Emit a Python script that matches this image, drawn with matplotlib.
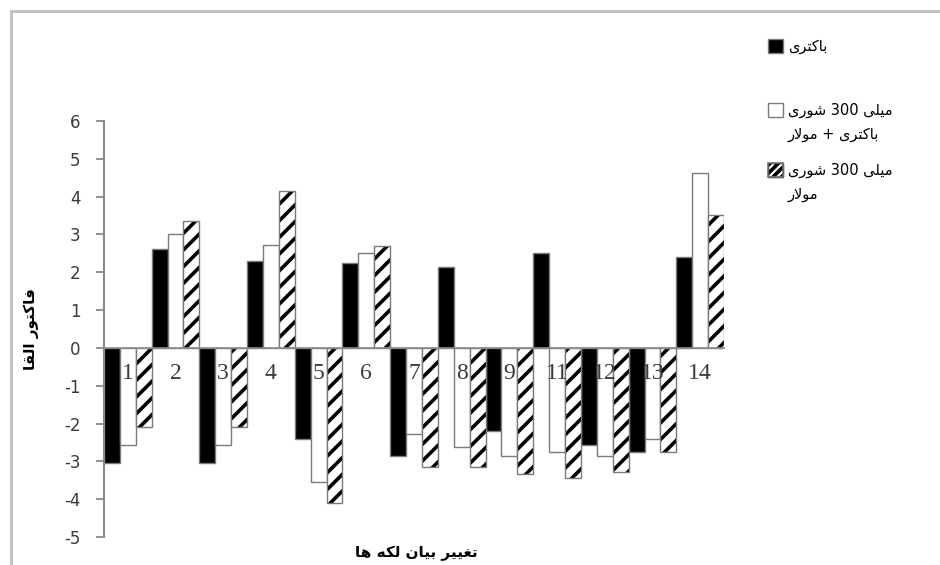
#!/usr/bin/env python3
"""Induction factor of spot expression under bacteria / salinity treatments."""

import numpy as np
import matplotlib
matplotlib.use('Agg')
import matplotlib.pyplot as plt
from matplotlib.patches import Rectangle

categories = ['1', '2', '3', '4', '5', '6', '7', '8', '9', '11', '12', '13', '14']
bacteria = [-3.05, 2.62, -3.05, 2.3, -2.42, 2.25, -2.85, 2.15, -2.2, 2.5, -2.57, -2.75, 2.4]
salt_bacteria = [-2.57, 3.02, -2.57, 2.72, -3.55, 2.5, -2.28, -2.63, -2.87, -2.75, -2.87, -2.42, 4.63]
salt = [-2.1, 3.35, -2.1, 4.15, -4.1, 2.7, -3.15, -3.15, -3.33, -3.43, -3.27, -2.75, 3.52]
y_ticks = [-5, -4, -3, -2, -1, 0, 1, 2, 3, 4, 5, 6]

# legend lines, words listed in the visual left-to-right order of the picture
legend_bacteria = [['باکتری']]
legend_salt_bacteria = [['شوری', '300', 'میلی'], ['مولار', '+', 'باکتری']]
legend_salt = [['شوری', '300', 'میلی'], ['مولار']]
x_title = 'تغییر بیان لکه ها'
y_title = 'فاکتور القا'

# isolated, final, initial, medial presentation forms
FORMS = {
    '\u0627': ('\uFE8D', '\uFE8E', None, None),
    '\u0628': ('\uFE8F', '\uFE90', '\uFE91', '\uFE92'),
    '\u062A': ('\uFE95', '\uFE96', '\uFE97', '\uFE98'),
    '\u0631': ('\uFEAD', '\uFEAE', None, None),
    '\u0634': ('\uFEB5', '\uFEB6', '\uFEB7', '\uFEB8'),
    '\u063A': ('\uFECD', '\uFECE', '\uFECF', '\uFED0'),
    '\u0641': ('\uFED1', '\uFED2', '\uFED3', '\uFED4'),
    '\u0642': ('\uFED5', '\uFED6', '\uFED7', '\uFED8'),
    '\u0644': ('\uFEDD', '\uFEDE', '\uFEDF', '\uFEE0'),
    '\u0645': ('\uFEE1', '\uFEE2', '\uFEE3', '\uFEE4'),
    '\u0646': ('\uFEE5', '\uFEE6', '\uFEE7', '\uFEE8'),
    '\u0647': ('\uFEE9', '\uFEEA', '\uFEEB', '\uFEEC'),
    '\u0648': ('\uFEED', '\uFEEE', None, None),
    '\u06A9': ('\uFB8E', '\uFB8F', '\uFB90', '\uFB91'),
    '\u06CC': ('\uFBFC', '\uFBFD', '\uFBFE', '\uFBFF'),
}


def shape_word(word):
    """Join letters of one Persian word, return it in visual order."""
    tokens = []
    i = 0
    while i < len(word):
        if word[i] == '\u0644' and i + 1 < len(word) and word[i + 1] == '\u0627':
            tokens.append('LA')
            i += 2
        else:
            tokens.append(word[i])
            i += 1
    out = []
    for j, t in enumerate(tokens):
        prev = tokens[j - 1] if j > 0 else None
        nxt = tokens[j + 1] if j + 1 < len(tokens) else None
        join_prev = prev in FORMS and FORMS[prev][2] is not None
        if t == 'LA':
            out.append('\uFEFC' if join_prev else '\uFEFB')
            continue
        if t not in FORMS:
            out.append(t)
            continue
        iso, fin, ini, med = FORMS[t]
        join_next = ini is not None and (nxt == 'LA' or nxt in FORMS)
        if join_prev and join_next:
            out.append(med)
        elif join_prev:
            out.append(fin)
        elif join_next:
            out.append(ini)
        else:
            out.append(iso)
    return ''.join(reversed(out))


def rtl(text):
    return ' '.join(shape_word(w) for w in reversed(text.split(' ')))


def visual_line(words):
    return ' '.join(w if w.isascii() else shape_word(w) for w in words)


def fx(px):
    return px / 940.0


def fy(py):
    return 1 - py / 565.0


def main():
    fig = plt.figure(figsize=(9.4, 5.65), dpi=100)
    fig.patch.set_facecolor('white')
    fig.patches.append(Rectangle((fx(11), -0.1), 1.2, fy(11) + 0.1, transform=fig.transFigure,
                                 facecolor='none', edgecolor='#c4c4c4', linewidth=2.2))

    ax = fig.add_axes([fx(104), fy(537), fx(724) - fx(104), fy(121) - fy(537)])
    for side in ['top', 'right']:
        ax.spines[side].set_visible(False)
    ax.spines['bottom'].set_position(('data', 0))
    ax.spines['bottom'].set_color('#8a8a8a')
    ax.spines['bottom'].set_linewidth(1.2)
    ax.spines['left'].set_color('#8a8a8a')
    ax.spines['left'].set_linewidth(1.5)

    x = np.arange(len(categories))
    w = 1 / 3.0
    edge = '#7a7a7a'
    plt.rcParams['hatch.linewidth'] = 2.6
    ax.bar(x - w, bacteria, w, color='black', edgecolor=edge, linewidth=1.0)
    ax.bar(x, salt_bacteria, w, color='white', edgecolor=edge, linewidth=1.0)
    ax.bar(x + w, salt, w, color='white', edgecolor='black', hatch='//', linewidth=0)
    ax.bar(x + w, salt, w, color='none', edgecolor=edge, linewidth=1.0)

    ax.set_xlim(-0.5, len(categories) - 0.5)
    ax.set_ylim(-5, 6)
    ax.set_yticks(y_ticks)
    ax.set_yticklabels([str(v) for v in y_ticks])
    ax.set_xticks(x)
    ax.set_xticklabels(categories)
    ax.tick_params(axis='x', length=0, pad=11, labelsize=17, labelcolor='#3d3a38')
    for lab in ax.get_xticklabels():
        lab.set_fontfamily('Liberation Serif')
    ax.tick_params(axis='y', direction='out', length=6, width=1.3, color='#8a8a8a',
                   pad=11, labelsize=12, labelcolor='#3a3a3a')

    fig.text(fx(31), fy(329), rtl(y_title), rotation=90, ha='center', va='center',
             fontsize=11, fontweight='bold', family='DejaVu Sans')
    fig.text(fx(416), fy(553), rtl(x_title), ha='center', va='center',
             fontsize=11, fontweight='bold', family='DejaVu Sans')

    # legend
    entries = [
        (legend_bacteria, 39, dict(facecolor='black', edgecolor=edge)),
        (legend_salt_bacteria, 103, dict(facecolor='white', edgecolor=edge)),
        (legend_salt, 163, dict(facecolor='white', edgecolor='black', hatch='////')),
    ]
    for lines, top, style in entries:
        fig.patches.append(Rectangle((fx(768), fy(top + 14)), fx(15), 14 / 565.0,
                                     transform=fig.transFigure, linewidth=1.0, **style))
        if 'hatch' in style:
            fig.patches.append(Rectangle((fx(768), fy(top + 14)), fx(15), 14 / 565.0,
                                         transform=fig.transFigure, facecolor='none',
                                         edgecolor=edge, linewidth=1.2))
        for k, words in enumerate(lines):
            fig.text(fx(788), fy(top + 7 + 25 * k), visual_line(words), ha='left', va='center',
                     fontsize=10.5, family='DejaVu Sans')

    fig.savefig('out.png', dpi=100)
    plt.close(fig)


if __name__ == '__main__':
    main()
